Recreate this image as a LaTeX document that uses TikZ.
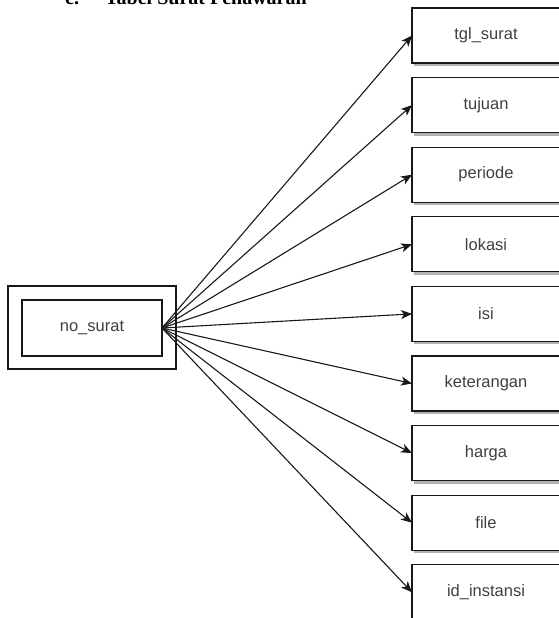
\documentclass[tikz,border=0pt]{standalone}
\usepackage{fontspec}
\setmainfont{Liberation Sans}
\newfontfamily\headfont{Liberation Serif}
\usetikzlibrary{arrows.meta,shadows}
\begin{document}
\begin{tikzpicture}[x=1pt,y=-1pt,
  attr/.style={draw=black!90,line width=1.3pt,fill=white,minimum width=148pt,minimum height=55pt,
    anchor=north west,inner sep=0pt,outer sep=0pt,font=\fontsize{16.5}{19}\selectfont,text=black!75,
    drop shadow={shadow xshift=1.5pt,shadow yshift=-3pt,fill=black!30,opacity=1}},
  ent/.style={draw=black!90,line width=1.3pt,fill=white,inner sep=0pt,outer sep=0pt},
  link/.style={line width=1.1pt,draw=black!90,-{Stealth[length=11pt,width=9pt,inset=3pt]}},
  head/.style={anchor=base west,inner sep=0pt,font=\headfont\bfseries\fontsize{20}{24}\selectfont}]
\useasboundingbox (0,0) rectangle (559,618);
\clip (0,0) rectangle (559,618);
\node[head] (headc) at (65,5) {c.};
\node[head] (headt) at (105,5) {Tabel Surat Penawaran};
\node[ent,minimum width=168pt,minimum height=83pt,anchor=north west] (outer) at (8,286) {};
\node[ent,minimum width=140pt,minimum height=56pt,anchor=north west,
  font=\fontsize{16.5}{19}\selectfont,text=black!75] (inner) at (22,300) {no\_surat};
\foreach \name [count=\i from 0] in {tgl\_surat,tujuan,periode,lokasi,isi,keterangan,harga,file,id\_instansi}{
  \node[attr] (a\i) at (412,{8+69.6*\i}) {\name};
  \draw[link] (inner.east) -- (a\i.west);
}
\end{tikzpicture}
\end{document}
